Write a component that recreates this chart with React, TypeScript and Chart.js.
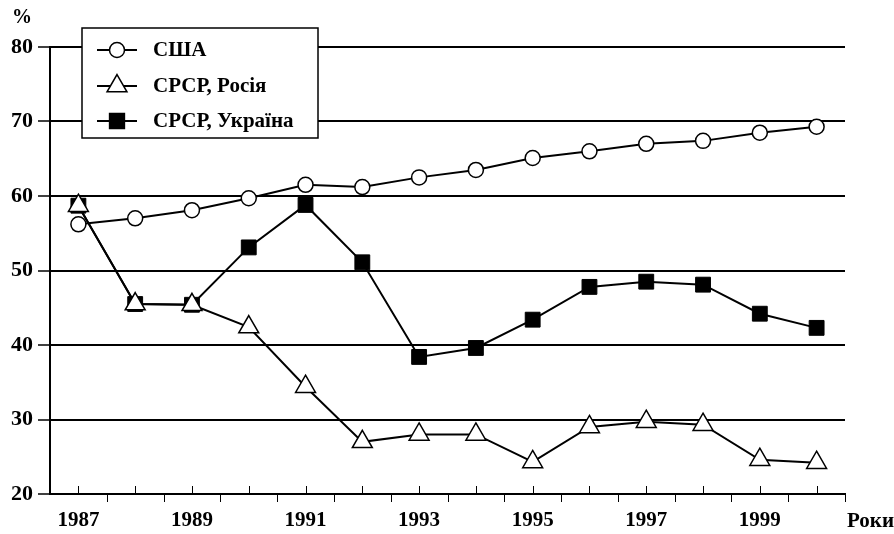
import React, { useEffect, useRef } from "react";
import { Chart, registerables } from "chart.js";

Chart.register(...registerables);

const years = [1987, 1988, 1989, 1990, 1991, 1992, 1993, 1994, 1995, 1996, 1997, 1998, 1999, 2000];
const labelYears = [1987, 1989, 1991, 1993, 1995, 1997, 1999];
const usa = [56.2, 57.0, 58.1, 59.7, 61.5, 61.2, 62.5, 63.5, 65.1, 66.0, 67.0, 67.4, 68.5, 69.3];
const russia = [58.7, 45.5, 45.4, 42.4, 34.4, 27.0, 28.0, 28.0, 24.3, 29.0, 29.7, 29.3, 24.6, 24.2];
const ukraine = [58.7, 45.5, 45.4, 53.1, 58.8, 51.1, 38.4, 39.6, 43.4, 47.8, 48.5, 48.1, 44.2, 42.3];
const seriesNames = ["США", "СРСР, Росія", "СРСР, Україна"];
const yUnit = "%";
const xUnit = "Роки";

const FONT = "'Liberation Serif', 'Times New Roman', serif";

const decorPlugin = {
  id: "decor",
  afterDraw(chart: any) {
    const ctx = chart.ctx;
    const xs = chart.scales.x;
    const area = chart.chartArea;
    ctx.save();
    // minor ticks on x axis
    ctx.strokeStyle = "#000";
    ctx.lineWidth = 1;
    years.forEach((y) => {
      const px = Math.round(xs.getPixelForValue(y)) + 0.5;
      ctx.beginPath();
      ctx.moveTo(px, area.bottom - 8);
      ctx.lineTo(px, area.bottom);
      ctx.stroke();
      const ph = Math.round(xs.getPixelForValue(y + 0.5)) + 0.5;
      ctx.beginPath();
      ctx.moveTo(ph, area.bottom);
      ctx.lineTo(ph, area.bottom + 8);
      ctx.stroke();
    });
    // unit labels
    ctx.fillStyle = "#000";
    ctx.font = `bold 20px ${FONT}`;
    ctx.textBaseline = "middle";
    ctx.textAlign = "left";
    ctx.fillText(yUnit, 12, 18);
    ctx.font = `bold 21px ${FONT}`;
    ctx.fillText(xUnit, area.right + 2, 522);
    // legend box
    const bx = 82, by = 28, bw = 236, bh = 110;
    ctx.fillStyle = "#fff";
    ctx.fillRect(bx, by, bw, bh);
    ctx.strokeStyle = "#000";
    ctx.lineWidth = 1.5;
    ctx.strokeRect(bx, by, bw, bh);
    const rows = [50, 86, 121];
    chart.data.datasets.forEach((ds: any, i: number) => {
      const ry = rows[i];
      ctx.strokeStyle = "#000";
      ctx.lineWidth = 2;
      ctx.beginPath();
      ctx.moveTo(97, ry);
      ctx.lineTo(137, ry);
      ctx.stroke();
      const cx = 117;
      const r = ds.pointRadius;
      ctx.fillStyle = ds.pointBackgroundColor;
      ctx.lineWidth = 1.5;
      ctx.beginPath();
      if (ds.pointStyle === "circle") {
        ctx.arc(cx, ry, r, 0, Math.PI * 2);
      } else if (ds.pointStyle === "triangle") {
        ctx.moveTo(cx, ry - r);
        ctx.lineTo(cx + r * Math.sin((2 * Math.PI) / 3), ry + r * 0.5);
        ctx.lineTo(cx - r * Math.sin((2 * Math.PI) / 3), ry + r * 0.5);
        ctx.closePath();
      } else {
        const s = r * Math.SQRT1_2;
        ctx.rect(cx - s, ry - s, 2 * s, 2 * s);
      }
      ctx.fill();
      ctx.stroke();
      ctx.fillStyle = "#000";
      ctx.font = `bold 21px ${FONT}`;
      ctx.textAlign = "left";
      ctx.textBaseline = "middle";
      ctx.fillText(ds.label, 153, ry + 1);
    });
    ctx.restore();
  },
};

export default function App() {
  const ref = useRef<HTMLCanvasElement>(null);
  useEffect(() => {
    if (!ref.current) return;
    const toPts = (arr: number[]) => years.map((y, i) => ({ x: y, y: arr[i] }));
    const chart = new Chart(ref.current, {
      type: "line",
      data: {
        datasets: [
          {
            label: seriesNames[0],
            data: toPts(usa),
            borderColor: "#000",
            borderWidth: 2,
            pointStyle: "circle",
            pointRadius: 7.5,
            pointBackgroundColor: "#fff",
            pointBorderColor: "#000",
            pointBorderWidth: 1.5,
          },
          {
            label: seriesNames[1],
            data: toPts(russia),
            borderColor: "#000",
            borderWidth: 2,
            pointStyle: "triangle",
            pointRadius: 11.5,
            pointBackgroundColor: "#fff",
            pointBorderColor: "#000",
            pointBorderWidth: 1.5,
          },
          {
            label: seriesNames[2],
            data: toPts(ukraine),
            borderColor: "#000",
            borderWidth: 2,
            pointStyle: "rect",
            pointRadius: 10.5,
            pointBackgroundColor: "#000",
            pointBorderColor: "#000",
            pointBorderWidth: 1,
          },
        ] as any,
      },
      options: {
        animation: false,
        responsive: false,
        layout: { padding: { top: 47, right: 49, left: 0, bottom: 0 } },
        plugins: { legend: { display: false }, tooltip: { enabled: false } },
        scales: {
          x: {
            type: "linear",
            min: 1986.5,
            max: 2000.5,
            afterBuildTicks: (s: any) => {
              s.ticks = labelYears.map((v) => ({ value: v }));
            },
            afterFit: (s: any) => {
              s.height = 40;
            },
            grid: { display: false, drawTicks: false },
            border: { display: true, color: "#000", width: 2 },
            ticks: {
              color: "#000",
              padding: 14,
              maxRotation: 0,
              autoSkip: false,
              font: { family: FONT, size: 21, weight: "bold" },
              callback: (v: any) => String(v),
            },
          },
          y: {
            min: 20,
            max: 80,
            afterFit: (s: any) => {
              s.width = 50;
            },
            grid: { color: "#000", lineWidth: 2, drawTicks: true, tickLength: 12, tickWidth: 1.5 },
            border: { display: true, color: "#000", width: 2 },
            ticks: {
              stepSize: 10,
              color: "#000",
              padding: 5,
              font: { family: FONT, size: 22, weight: "bold" },
            },
          },
        },
      },
      plugins: [decorPlugin],
    });
    return () => chart.destroy();
  }, []);
  return (
    <div style={{ position: "fixed", left: 0, top: 0, width: 894, height: 534, background: "#fff" }}>
      <canvas ref={ref} width={894} height={534} style={{ display: "block" }} />
    </div>
  );
}
